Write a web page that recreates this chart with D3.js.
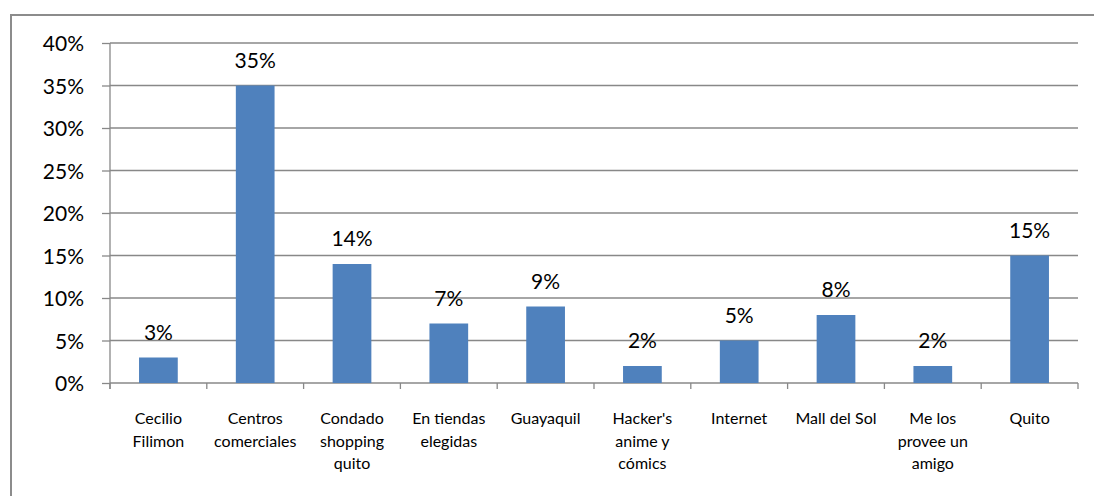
<!DOCTYPE html>
<html>
<head>
<meta charset="utf-8">
<script src="https://cdn.jsdelivr.net/npm/d3@7"></script>
<style>
  html, body { margin: 0; padding: 0; background: #ffffff; }
  svg { display: block; }
  text { font-family: Lato, "Open Sans", sans-serif; fill: #000; }
</style>
</head>
<body>
<script>
// Where the respondents get their products (share of answers)
const categories = [
  ["Cecilio", "Filimon"],
  ["Centros", "comerciales"],
  ["Condado", "shopping", "quito"],
  ["En tiendas", "elegidas"],
  ["Guayaquil"],
  ["Hacker's", "anime y", "cómics"],
  ["Internet"],
  ["Mall del Sol"],
  ["Me los", "provee un", "amigo"],
  ["Quito"]
];
const values = [3, 35, 14, 7, 9, 2, 5, 8, 2, 15];
const yTicks = [0, 5, 10, 15, 20, 25, 30, 35, 40];

const W = 1094, H = 496;
const plot = { left: 110, right: 1078, top: 43, bottom: 383 };

const svg = d3.select("body").append("svg")
  .attr("width", W).attr("height", H);

// chart frame
svg.append("rect")
  .attr("x", 11).attr("y", 15)
  .attr("width", W + 10).attr("height", H + 10)
  .attr("fill", "none")
  .attr("stroke", "#8c8c8c")
  .attr("stroke-width", 2);

const keys = categories.map((c, i) => i);
const x = d3.scaleBand().domain(keys).range([plot.left, plot.right]).paddingInner(0.6).paddingOuter(0.3);
const xOuter = d3.scaleBand().domain(keys).range([plot.left, plot.right]);
const y = d3.scaleLinear().domain([0, 40]).range([plot.bottom, plot.top]);

// horizontal gridlines
svg.append("g").selectAll("line").data(yTicks.filter(t => t > 0)).join("line")
  .attr("x1", plot.left).attr("x2", plot.right)
  .attr("y1", d => y(d)).attr("y2", d => y(d))
  .attr("stroke", "#888888").attr("stroke-width", 1.3);

// y axis
const yAxis = d3.axisLeft(y).tickValues(yTicks).tickSize(8).tickPadding(18)
  .tickFormat(d => d + "%");
const gy = svg.append("g").attr("transform", `translate(${plot.left},0)`).call(yAxis);
gy.select(".domain").attr("stroke", "#888888").attr("stroke-width", 1.3)
  .attr("d", `M0,${plot.top}V${plot.bottom + 6}`);
gy.selectAll(".tick line").attr("stroke", "#888888").attr("stroke-width", 1.3);
gy.selectAll(".tick text").style("font-size", "21px").attr("fill", "#000")
  .attr("dy", "0.36em")
  .style("font-family", "Lato, 'Open Sans', sans-serif");

// x axis baseline and ticks between categories
const bounds = keys.map(k => xOuter(k)).concat([plot.right]);
svg.append("line")
  .attr("x1", plot.left).attr("x2", plot.right)
  .attr("y1", plot.bottom).attr("y2", plot.bottom)
  .attr("stroke", "#888888").attr("stroke-width", 1.3);
svg.append("g").selectAll("line").data(bounds).join("line")
  .attr("x1", d => d).attr("x2", d => d)
  .attr("y1", plot.bottom).attr("y2", plot.bottom + 6)
  .attr("stroke", "#888888").attr("stroke-width", 1.3);

// bars
svg.append("g").selectAll("rect").data(values).join("rect")
  .attr("x", (d, i) => x(i))
  .attr("width", x.bandwidth())
  .attr("y", d => y(d))
  .attr("height", d => y(0) - y(d))
  .attr("fill", "#4f81bd");

// value labels
svg.append("g").selectAll("text").data(values).join("text")
  .attr("x", (d, i) => x(i) + x.bandwidth() / 2)
  .attr("y", d => y(d) - 18)
  .attr("text-anchor", "middle")
  .style("font-size", "21px")
  .text(d => d + "%");

// category labels
const catG = svg.append("g").selectAll("text").data(categories).join("text")
  .attr("x", (d, i) => xOuter(i) + xOuter.bandwidth() / 2)
  .attr("y", 424)
  .attr("text-anchor", "middle")
  .style("font-size", "16px");
catG.selectAll("tspan").data(d => d).join("tspan")
  .attr("x", function() { return d3.select(this.parentNode).attr("x"); })
  .attr("dy", (d, j) => j === 0 ? 0 : 22.5)
  .text(d => d);
</script>
</body>
</html>
